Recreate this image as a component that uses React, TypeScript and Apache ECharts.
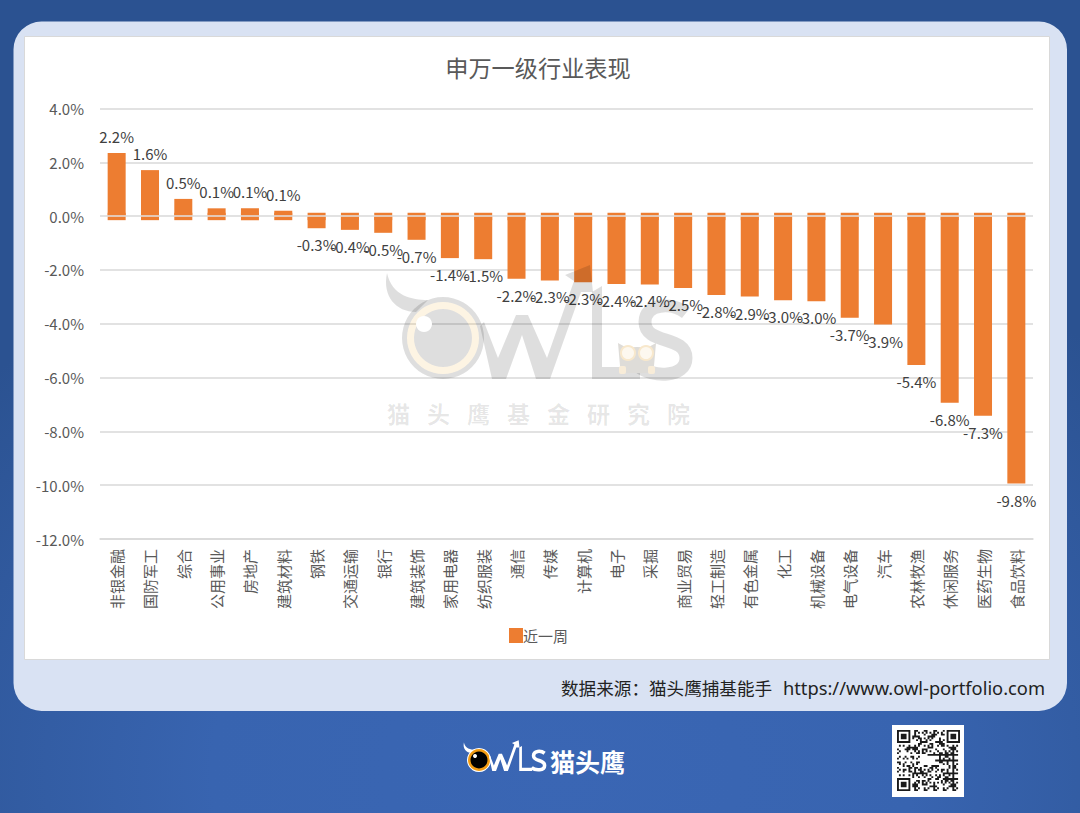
import React, { useEffect, useRef } from "react";
import * as echarts from "echarts";

const categories = ["非银金融","国防军工","综合","公用事业","房地产","建筑材料","钢铁","交通运输","银行","建筑装饰","家用电器","纺织服装","通信","传媒","计算机","电子","采掘","商业贸易","轻工制造","有色金属","化工","机械设备","电气设备","汽车","农林牧渔","休闲服务","医药生物","食品饮料"];
// Where each bar visibly ends on the axis (the picture's bars run slightly past their printed labels)
const barEnds = [2.35,1.71,0.64,0.29,0.29,0.2,-0.45,-0.51,-0.62,-0.88,-1.56,-1.6,-2.33,-2.39,-2.46,-2.52,-2.54,-2.67,-2.93,-2.99,-3.13,-3.16,-3.78,-4.03,-5.53,-6.94,-7.42,-9.94];
// The labels printed on the bars
const barLabels = ["2.2%","1.6%","0.5%","0.1%","0.1%","0.1%","-0.3%","-0.4%","-0.5%","-0.7%","-1.4%","-1.5%","-2.2%","-2.3%","-2.3%","-2.4%","-2.4%","-2.5%","-2.8%","-2.9%","-3.0%","-3.0%","-3.7%","-3.9%","-5.4%","-6.8%","-7.3%","-9.8%"];
const seriesName = "近一周";
const chartTitle = "申万一级行业表现";
const watermarkChars = ["猫","头","鹰","基","金","研","究","院"];
const sourceText = "数据来源：猫头鹰捕基能手";
const sourceUrl = "https://www.owl-portfolio.com";
const brandName = "猫头鹰";
const stubUp = 0.125;
const stubDown = -0.15;

const FONT = '"Noto Sans CJK SC", "Noto Sans", sans-serif';

echarts.graphic.registerShape("owlHorn", echarts.graphic.extendPath("M387,273 C382,296 396,312 416,312 L428,300 C412,300 392,296 387,273 Z", {}) as any);
echarts.graphic.registerShape("owlW", echarts.graphic.extendPath("M480,326 L492,379 L506,379 L522,335 L536,379 L550,379 L581,292 L593,292 L590,265 L565,275 L574,281 L547,358 L528,315 L516,315 L498,358 L484,322 Z", {}) as any);
echarts.graphic.registerShape("owlL", echarts.graphic.extendPath("M592,292 L602,286 L602,367 L640,367 L640,379 L592,379 Z", {}) as any);
echarts.graphic.registerShape("owlS", echarts.graphic.extendPath("M686,313 C672,302 645,303 645,322 C645,345 686,335 686,358 C686,378 652,378 638,366", {}) as any);
echarts.graphic.registerShape("owlBird", echarts.graphic.extendPath("M618,343 L627,348 Q637,346 647,348 L656,343 L654,366 L648,373 L626,373 L620,366 Z", {}) as any);

// decorative QR-like module pattern (not chart data)
const qrN = 33;
const inFinder = (r: number, c: number) => (r < 8 && c < 8) || (r < 8 && c >= qrN - 8) || (r >= qrN - 8 && c < 8);
let qrPath = "";
for (let r = 0; r < qrN; r++) {
  for (let c = 0; c < qrN; c++) {
    let on = false;
    if (inFinder(r, c)) {
      const rr = r >= qrN - 8 ? r - (qrN - 7) : r;
      const cc = c >= qrN - 8 ? c - (qrN - 7) : c;
      if (rr >= 0 && rr < 7 && cc >= 0 && cc < 7) {
        on = rr === 0 || rr === 6 || cc === 0 || cc === 6 || (rr >= 2 && rr <= 4 && cc >= 2 && cc <= 4);
      }
    } else if (r >= 14 && r <= 18 && c >= 13 && c <= 19) {
      on = false;
    } else {
      on = ((r * 7 + c * 13 + ((r * c) % 5) * 11 + (r ^ c)) % 5) < 2;
    }
    if (on) qrPath += `M${c},${r}h1v1h-1z`;
  }
}
echarts.graphic.registerShape("qrModules", echarts.graphic.extendPath(qrPath, {}) as any);

const WM = "rgba(0,0,0,0.13)";
const CREAM = "rgba(243,170,40,0.13)";

function graphicElements() {
  const back: any[] = [
    { type: "rect", z: -10, shape: { x: 0, y: 0, width: 1080, height: 813 }, style: { fill: new echarts.graphic.RadialGradient(0.52, 0.95, 0.72, [{ offset: 0, color: "#3a66b4" }, { offset: 0.45, color: "#3864b0" }, { offset: 1, color: "#2b5291" }]) } },
    { type: "rect", z: -9, shape: { x: 13.5, y: 21.5, width: 1053.5, height: 689.5, r: 28 }, style: { fill: "#d9e2f3" } },
    { type: "rect", z: -8, shape: { x: 24.5, y: 36.5, width: 1025, height: 623 }, style: { fill: "#ffffff", stroke: "#d9d9d9", lineWidth: 1 } },
    { type: "text", z: 30, x: 561, y: 687, style: { text: sourceText, font: `17.6px ${FONT}`, fill: "#222222", textAlign: "left", textVerticalAlign: "middle" } },
    { type: "text", z: 30, x: 1045, y: 687, style: { text: sourceUrl, font: `18.3px "Noto Sans", sans-serif`, fill: "#222222", textAlign: "right", textVerticalAlign: "middle" } },
  ];
  const watermark: any[] = [
    { type: "owlHorn", z: 20, style: { fill: WM } },
    { type: "ring", z: 20, shape: { cx: 443, cy: 338, r: 41, r0: 36 }, style: { fill: WM } },
    { type: "ring", z: 20, shape: { cx: 443, cy: 338, r: 36, r0: 29 }, style: { fill: CREAM } },
    { type: "circle", z: 20, shape: { cx: 443, cy: 338, r: 29 }, style: { fill: WM } },
    { type: "circle", z: 21, shape: { cx: 424, cy: 324, r: 8 }, style: { fill: "#ffffff" } },
    { type: "owlW", z: 20, style: { fill: WM } },
    { type: "owlL", z: 20, style: { fill: WM } },
    { type: "owlS", z: 20, style: { fill: "none", stroke: WM, lineWidth: 13 } },
    { type: "owlBird", z: 21, style: { fill: "#dedcd8" } },
    { type: "circle", z: 22, shape: { cx: 628, cy: 353, r: 7 }, style: { fill: "#fdf8ef", stroke: "#f8e8cc", lineWidth: 2 } },
    { type: "circle", z: 22, shape: { cx: 646, cy: 353, r: 7 }, style: { fill: "#fdf8ef", stroke: "#f8e8cc", lineWidth: 2 } },
    { type: "rect", z: 22, shape: { x: 619, y: 366, width: 7, height: 8, r: 2 }, style: { fill: "#f8ecd8" } },
    { type: "rect", z: 22, shape: { x: 648, y: 366, width: 7, height: 8, r: 2 }, style: { fill: "#f8ecd8" } },
    ...watermarkChars.map((ch, i) => ({ type: "text", z: 20, x: 398.5 + i * 40, y: 413, style: { text: ch, font: `bold 23px ${FONT}`, fill: "rgba(0,0,0,0.1)", textAlign: "center", textVerticalAlign: "middle" } })),
  ];
  const s = 0.27;
  const ox = 479 - 443 * s;
  const oy = 760 - 338 * s;
  const scaled = { x: ox, y: oy, scaleX: s, scaleY: s };
  const logo: any[] = [
    { type: "owlHorn", z: 10, ...scaled, style: { fill: "#ffffff" } },
    { type: "circle", z: 10, shape: { cx: 479, cy: 760, r: 12 }, style: { fill: "#ffffff" } },
    { type: "circle", z: 10, shape: { cx: 479, cy: 760, r: 11 }, style: { fill: "#f39c12" } },
    { type: "circle", z: 10, shape: { cx: 479, cy: 760, r: 8.5 }, style: { fill: "#000000" } },
    { type: "circle", z: 11, shape: { cx: 475, cy: 756, r: 2 }, style: { fill: "#ffffff" } },
    { type: "owlW", z: 10, ...scaled, style: { fill: "#ffffff" } },
    { type: "owlL", z: 10, ...scaled, style: { fill: "#ffffff" } },
    { type: "owlS", z: 10, ...scaled, style: { fill: "none", stroke: "#ffffff", lineWidth: 13 } },
    { type: "text", z: 10, x: 587.5, y: 761, style: { text: brandName, font: `bold 25px ${FONT}`, fill: "#ffffff", textAlign: "center", textVerticalAlign: "middle" } },
  ];
  const qrScale = 63 / qrN;
  const qr: any[] = [
    { type: "rect", z: 10, shape: { x: 892, y: 725, width: 72, height: 72 }, style: { fill: "#ffffff" } },
    { type: "qrModules", z: 11, x: 897, y: 730, scaleX: qrScale, scaleY: 61 / qrN, style: { fill: "#1a1a1a" } },
  ];
  return [...back, ...watermark, ...logo, ...qr];
}

export default function App() {
  const ref = useRef<HTMLDivElement>(null);
  useEffect(() => {
    document.body.style.margin = "0";
    const chart = echarts.init(ref.current!, undefined, { renderer: "svg" });
    chart.setOption({
      animation: false,
      textStyle: { fontFamily: FONT },
      title: { text: chartTitle, left: 533, top: 50, textAlign: "center", textStyle: { fontSize: 23.2, fontWeight: "normal", color: "#595959", fontFamily: FONT } },
      legend: { data: [seriesName], left: 504, top: 623, itemWidth: 14, itemHeight: 15, icon: "rect", textStyle: { fontSize: 15, color: "#595959", fontFamily: FONT, padding: [0, 0, 0, -5] } },
      grid: { left: 100, right: 47, top: 108.5, bottom: 274, containLabel: false },
      xAxis: {
        type: "category",
        data: categories,
        axisLine: { onZero: false, lineStyle: { color: "#d9d9d9", width: 1.5 } },
        axisTick: { show: false },
        axisLabel: { interval: 0, rotate: 90, margin: 10, fontSize: 15, color: "#595959", fontFamily: FONT },
      },
      yAxis: {
        type: "value",
        min: -12,
        max: 4,
        interval: 2,
        axisLine: { show: false },
        axisTick: { show: false },
        splitLine: { lineStyle: { color: "#d9d9d9", width: 1.5 } },
        axisLabel: { margin: 16, fontSize: 15, color: "#595959", fontFamily: FONT, padding: [0, 0, 3, 0], formatter: (v: number) => v.toFixed(1) + "%" },
      },
      series: [
        {
          name: seriesName,
          type: "bar",
          data: barEnds,
          barWidth: 18,
          itemStyle: { color: "#ed7d31" },
          label: { show: true, position: "outside", distance: 9, fontSize: 15, color: "#404040", fontFamily: FONT, formatter: (p: any) => barLabels[p.dataIndex] },
          markLine: { silent: true, symbol: "none", label: { show: false }, lineStyle: { color: "#e2e2e2", width: 1.5, type: "solid" }, data: [{ yAxis: 0 }] },
        },
        {
          type: "custom",
          name: "stub",
          silent: true,
          data: categories.map((_, i) => [i, stubUp, stubDown]),
          encode: { x: 0, y: [1, 2] },
          renderItem: (_: any, api: any) => {
            const i = api.value(0);
            const top = api.coord([i, api.value(1)]);
            const bottom = api.coord([i, api.value(2)]);
            return { type: "rect", shape: { x: top[0] - 9, y: top[1], width: 18, height: bottom[1] - top[1] }, style: { fill: "#ed7d31" } };
          },
        },
      ],
      graphic: { elements: graphicElements() },
    });
    return () => chart.dispose();
  }, []);
  return <div ref={ref} style={{ width: 1080, height: 813 }} />;
}
